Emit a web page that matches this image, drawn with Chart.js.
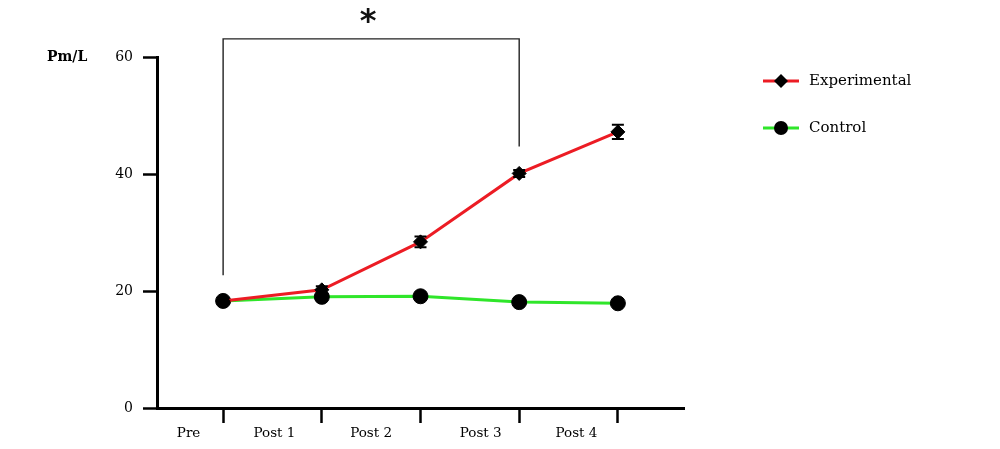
<!DOCTYPE html>
<html>
<head>
<meta charset="utf-8">
<title>Pm/L - Experimental vs Control</title>
<script src="https://cdn.jsdelivr.net/npm/chart.js@4"></script>
<style>
    html, body { margin: 0; padding: 0; background: #fff; }
    canvas { display: block; }
</style>
</head>
<body>
<canvas id="lineChart" width="1000" height="449"></canvas>
<script>
        // Data
        const categories = ['Pre', 'Post 1', 'Post 2', 'Post 3', 'Post 4'];
        const experimental = [18.3, 20.2, 28.4, 40.1, 47.2];
        const experimentalErr = [0.4, 0.6, 0.9, 0.6, 1.2];
        const control = [18.3, 19.0, 19.1, 18.1, 17.9];
        const controlErr = [0.3, 0.3, 0.3, 0.3, 0.3];
        const yTicks = [0, 20, 40, 60];
        const labelPos = [-0.35, 0.52, 1.5, 2.61, 3.58];   // category names sit between tick marks

        // Significance bracket (Pre .. Post 3)
        const bracketFrom = 0;
        const bracketTo = 3;
        const bracketTop = 63.1;
        const bracketLeftEnd = 22.7;
        const bracketRightEnd = 44.7;

        const serif = '"DejaVu Serif", serif';
        const red = '#ec1c24';
        const green = '#2fe62a';

        function toPoints(values) {
            return values.map((v, i) => ({ x: i, y: v }));
        }

        // Error bars, bracket, axis title and legend
        const extrasPlugin = {
            id: 'extras',
            afterDatasetsDraw(chart) {
                const ctx = chart.ctx;
                const xs = chart.scales.x;
                const ys = chart.scales.y;
                ctx.save();
                ctx.strokeStyle = '#000';
                ctx.lineWidth = 2;
                [[experimental, experimentalErr], [control, controlErr]].forEach(([vals, errs]) => {
                    vals.forEach((v, i) => {
                        const px = xs.getPixelForValue(i);
                        const top = ys.getPixelForValue(v + errs[i]);
                        const bot = ys.getPixelForValue(v - errs[i]);
                        ctx.beginPath();
                        ctx.moveTo(px, top); ctx.lineTo(px, bot);
                        ctx.moveTo(px - 6, top); ctx.lineTo(px + 6, top);
                        ctx.moveTo(px - 6, bot); ctx.lineTo(px + 6, bot);
                        ctx.stroke();
                    });
                });
                ctx.restore();
            },
            afterDraw(chart) {
                const ctx = chart.ctx;
                const xs = chart.scales.x;
                const ys = chart.scales.y;
                ctx.save();

                // bracket
                const xl = xs.getPixelForValue(bracketFrom);
                const xr = xs.getPixelForValue(bracketTo);
                const yt = ys.getPixelForValue(bracketTop);
                ctx.strokeStyle = '#222';
                ctx.lineWidth = 1.4;
                ctx.beginPath();
                ctx.moveTo(xl, ys.getPixelForValue(bracketLeftEnd));
                ctx.lineTo(xl, yt);
                ctx.lineTo(xr, yt);
                ctx.lineTo(xr, ys.getPixelForValue(bracketRightEnd));
                ctx.stroke();

                // asterisk
                ctx.fillStyle = '#111';
                ctx.font = 'bold 32px "DejaVu Sans", sans-serif';
                ctx.textAlign = 'center';
                ctx.textBaseline = 'middle';
                ctx.fillText('*', (xl + xr) / 2 - 3, yt - 16);

                // y axis title
                ctx.font = 'bold 14px ' + serif;
                ctx.textAlign = 'left';
                ctx.fillStyle = '#000';
                ctx.fillText('Pm/L', 47, ys.getPixelForValue(60));

                // legend
                const items = [
                    { text: 'Experimental', color: red, marker: 'diamond', y: 81 },
                    { text: 'Control', color: green, marker: 'circle', y: 128 }
                ];
                items.forEach(item => {
                    ctx.strokeStyle = item.color;
                    ctx.lineWidth = 3;
                    ctx.beginPath();
                    ctx.moveTo(763, item.y);
                    ctx.lineTo(799, item.y);
                    ctx.stroke();
                    ctx.fillStyle = '#000';
                    ctx.beginPath();
                    if (item.marker === 'diamond') {
                        ctx.moveTo(781, item.y - 7);
                        ctx.lineTo(788, item.y);
                        ctx.lineTo(781, item.y + 7);
                        ctx.lineTo(774, item.y);
                        ctx.closePath();
                    } else {
                        ctx.arc(781, item.y, 7, 0, Math.PI * 2);
                    }
                    ctx.fill();
                    ctx.font = '15px ' + serif;
                    ctx.textAlign = 'left';
                    ctx.textBaseline = 'middle';
                    ctx.fillText(item.text, 809, item.y);
                });
                ctx.restore();
            }
        };

        const chartCtx = document.getElementById('lineChart').getContext('2d');
        const lineChart = new Chart(chartCtx, {
            type: 'line',
            data: {
                datasets: [{
                    label: 'Experimental',
                    data: toPoints(experimental),
                    borderColor: red,
                    borderWidth: 3,
                    pointStyle: 'rectRot',
                    pointRadius: 7,
                    pointBackgroundColor: '#000',
                    pointBorderColor: '#000',
                    pointBorderWidth: 1,
                    tension: 0
                }, {
                    label: 'Control',
                    data: toPoints(control),
                    borderColor: green,
                    borderWidth: 3,
                    pointStyle: 'circle',
                    pointRadius: 7.5,
                    pointBackgroundColor: '#000',
                    pointBorderColor: '#000',
                    pointBorderWidth: 1,
                    tension: 0
                }]
            },
            options: {
                responsive: false,
                animation: false,
                layout: {
                    padding: { top: 57, right: 316, bottom: 0, left: 0 }
                },
                plugins: {
                    legend: { display: false },
                    tooltip: { enabled: false }
                },
                scales: {
                    x: {
                        type: 'linear',
                        min: -0.67,
                        max: 4.67,
                        afterBuildTicks: scale => {
                            const vals = categories.map((c, i) => i).concat(labelPos);
                            scale.ticks = vals.sort((a, b) => a - b).map(v => ({ value: v }));
                        },
                        afterFit: scale => { scale.height = 41; },
                        border: { display: true, color: '#000', width: 3 },
                        grid: {
                            drawOnChartArea: false,
                            tickLength: 15,
                            tickWidth: 2.5,
                            tickColor: ctx => (ctx.tick && Number.isInteger(ctx.tick.value)) ? '#000' : 'rgba(0,0,0,0)'
                        },
                        ticks: {
                            autoSkip: false,
                            maxRotation: 0,
                            padding: 2,
                            color: '#000',
                            font: { family: serif, size: 13.5 },
                            callback: value => {
                                const idx = labelPos.indexOf(value);
                                return idx >= 0 ? categories[idx] : '';
                            }
                        }
                    },
                    y: {
                        min: 0,
                        max: 60,
                        afterBuildTicks: scale => {
                            scale.ticks = yTicks.map(v => ({ value: v }));
                        },
                        afterFit: scale => { scale.width = 157; },
                        border: { display: true, color: '#000', width: 3 },
                        grid: {
                            drawOnChartArea: false,
                            tickLength: 14,
                            tickWidth: 2.5,
                            tickColor: '#000'
                        },
                        ticks: {
                            padding: 10,
                            color: '#000',
                            font: { family: serif, size: 14 }
                        }
                    }
                }
            },
            plugins: [extrasPlugin]
        });
</script>
</body>
</html>
